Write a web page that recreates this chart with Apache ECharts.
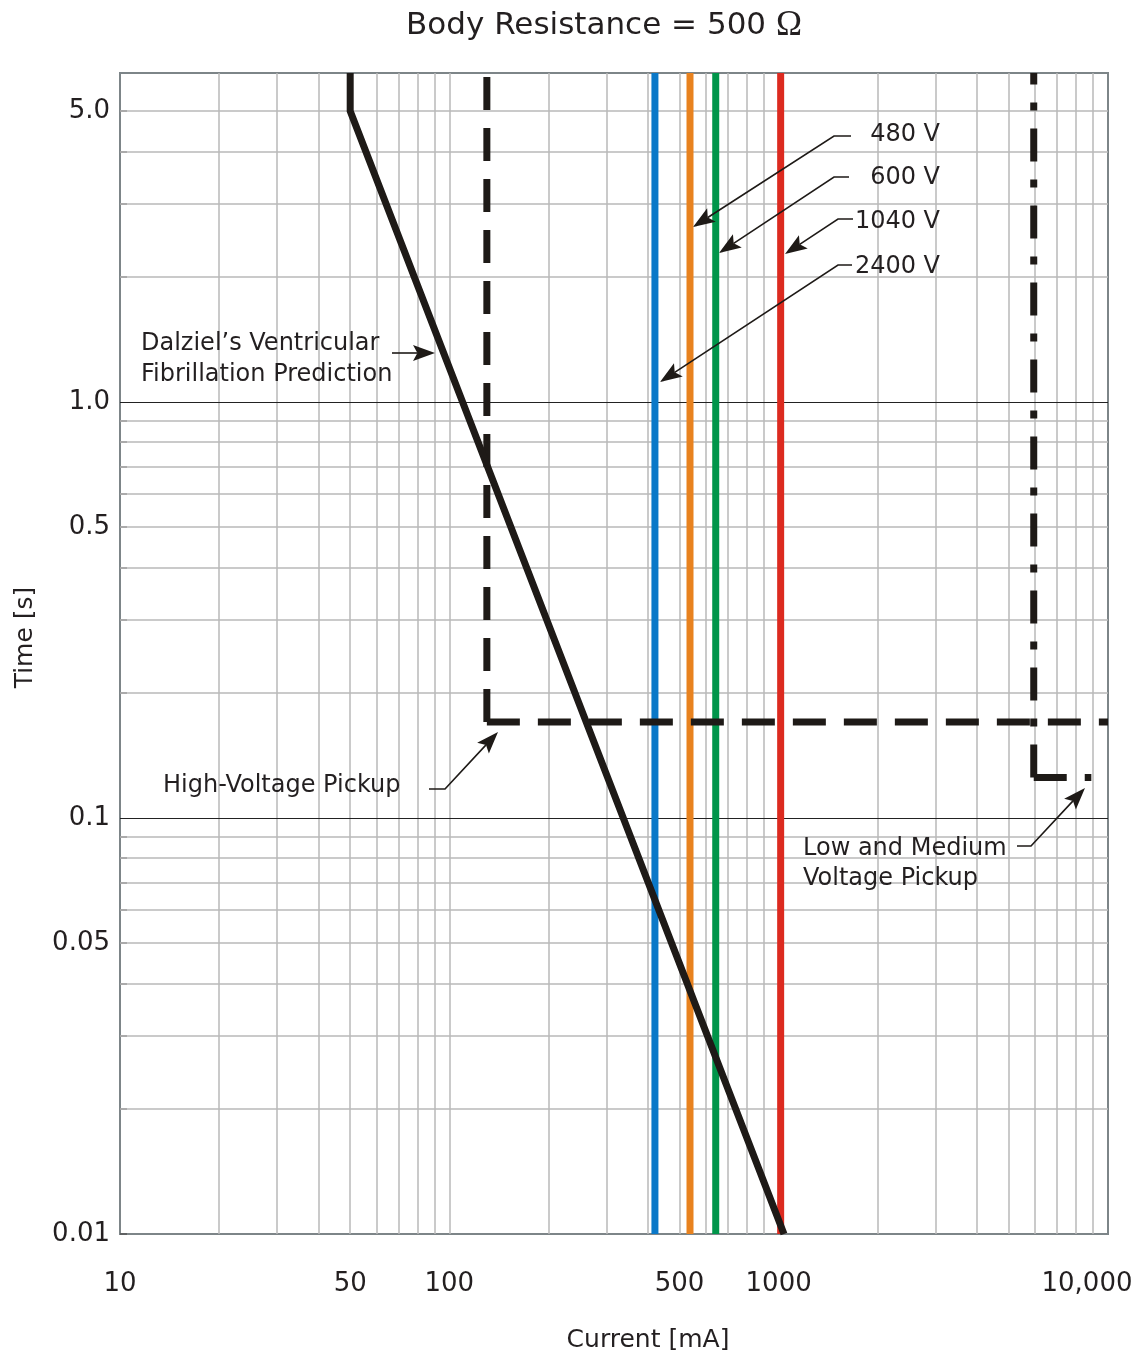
<!DOCTYPE html>
<html><head><meta charset="utf-8">
<script src="https://cdn.jsdelivr.net/npm/echarts@6/dist/echarts.min.js"></script>
<style>html,body{margin:0;padding:0;background:#fff}#c{width:1148px;height:1361px}</style>
</head><body><div id="c"></div>
<script>
// ---- data ----
const xTickValues = [10, 50, 100, 500, 1000, 10000];
const xTickLabels = ['10', '50', '100', '500', '1000', '10,000'];
const yTickValues = [0.01, 0.05, 0.1, 0.5, 1, 5];
const yTickLabels = ['0.01', '0.05', '0.1', '0.5', '1.0', '5.0'];
const xGridValues = [20,30,40,50,60,70,80,90,100,200,300,400,500,600,700,800,900,1000,2000,3000,4000,5000,6000,7000,8000,9000];
const yGridMinor = [0.02,0.03,0.04,0.05,0.06,0.07,0.08,0.09,0.2,0.3,0.4,0.5,0.6,0.7,0.8,0.9,2,3,4,5];
const yGridMajor = [0.1, 1];
const yMin = 0.01, yMax = 6.17, xMin = 10, xMax = 10000;
const voltageNames = ['2400 V', '480 V', '600 V', '1040 V'];
const voltageCurrents = [421, 538, 644, 1014];
const voltageColors = ['#0a78c8', '#e8821f', '#00954a', '#dc2a1f'];
const dalzielX = [50, 50, 1038];
const dalzielY = [6.17, 5.0, 0.01];
const hvPickupCurrent = 130, hvPickupTime = 0.17;
const lmvPickupCurrent = 5950, lmvPickupTime = 0.125, lmvPickupEnd = 8900;

const FONT = 'DejaVu Sans';
const TXT = '#231f20';
const INK = '#1e1a17';

function pairs(xs, ys) { return xs.map((x, i) => [x, ys[i]]); }
function lookup(vals, labels, v) {
  for (let i = 0; i < vals.length; i++) if (Math.abs(Math.log10(v / vals[i])) < 1e-6) return labels[i];
  return '';
}

const gridLines = [];
xGridValues.forEach(v => gridLines.push({ xAxis: v, lineStyle: { color: '#b9b9b9', width: 1.5, type: 'solid' } }));
yGridMinor.forEach(v => gridLines.push({ yAxis: v, lineStyle: { color: '#b9b9b9', width: 1.5, type: 'solid' } }));
yGridMajor.forEach(v => gridLines.push({ yAxis: v, lineStyle: { color: '#222', width: 1.2, type: 'solid' } }));

const series = [];
series.push({
  type: 'line', data: [[xMin, yMin]], symbol: 'none', lineStyle: { width: 0 }, z: 1, silent: true,
  markLine: { z: 1, silent: true, symbol: ['none', 'none'], label: { show: false }, animation: false, data: gridLines }
});
voltageCurrents.forEach((c, i) => series.push({
  type: 'line', name: voltageNames[i], data: [[c, yMin], [c, yMax]], symbol: 'none', z: 3,
  lineStyle: { color: voltageColors[i], width: 7, cap: 'butt' }
}));
series.push({
  type: 'line', data: pairs(dalzielX, dalzielY), symbol: 'none', z: 5,
  lineStyle: { color: INK, width: 7, join: 'miter' }
});
// High-voltage pickup (dashed), drawn from the corner outward
series.push({ type: 'line', data: [[hvPickupCurrent, hvPickupTime], [hvPickupCurrent, yMax]], symbol: 'none', z: 4,
  lineStyle: { color: INK, width: 7, type: [33, 18], cap: 'butt' } });
series.push({ type: 'line', data: [[hvPickupCurrent, hvPickupTime], [xMax, hvPickupTime]], symbol: 'none', z: 4,
  lineStyle: { color: INK, width: 7, type: [33, 18], cap: 'butt' } });
// Low/medium voltage pickup (dash-dot)
series.push({ type: 'line', data: [[lmvPickupCurrent, lmvPickupTime], [lmvPickupCurrent, yMax]], symbol: 'none', z: 4,
  lineStyle: { color: INK, width: 7, type: [33, 18, 8, 18], cap: 'butt' } });
series.push({ type: 'line', data: [[lmvPickupCurrent, lmvPickupTime], [lmvPickupEnd, lmvPickupTime]], symbol: 'none', z: 4,
  lineStyle: { color: INK, width: 7, type: [33, 18, 8, 18], cap: 'butt' } });

// ---- annotations (layout, pixels) ----
function arrow(pts, L, W) {
  L = L || 22; W = W || 8;
  const n = pts.length, tip = pts[n - 1], prev = pts[n - 2];
  const dx = tip[0] - prev[0], dy = tip[1] - prev[1], len = Math.hypot(dx, dy);
  const ux = dx / len, uy = dy / len, px = -uy, py = ux;
  const bx = tip[0] - ux * L, by = tip[1] - uy * L;
  const nx = tip[0] - ux * L * 0.8, ny = tip[1] - uy * L * 0.8;
  const linePts = pts.slice(0, n - 1).concat([[nx, ny]]);
  return [
    { type: 'polyline', shape: { points: linePts }, style: { stroke: INK, lineWidth: 1.6, fill: null }, z: 20 },
    { type: 'polygon', shape: { points: [tip, [bx + px * W, by + py * W], [nx, ny], [bx - px * W, by - py * W]] }, style: { fill: INK }, z: 20 }
  ];
}
function txt(t, x, y, align, size) {
  return { type: 'text', x: x, y: y, z: 20, style: { text: t, fill: TXT, font: (size || 24) + 'px "' + FONT + '"', align: align || 'left', verticalAlign: 'middle' } };
}
const graphics = [];
graphics.push({ type: 'text', x: 604, y: 26, z: 20, style: {
  text: '{a|Body Resistance = 500 }{o|Ω}', align: 'center', verticalAlign: 'middle',
  rich: { a: { fontFamily: FONT, fontSize: 31, fill: TXT, color: TXT }, o: { fontFamily: 'Liberation Serif', fontSize: 35, fill: TXT, color: TXT } } } });
graphics.push(txt('480 V', 940, 135, 'right'));
graphics.push(txt('600 V', 940, 178, 'right'));
graphics.push(txt('1040 V', 940, 222, 'right'));
graphics.push(txt('2400 V', 940, 267, 'right'));
graphics.push(...arrow([[851, 136], [834, 136], [693, 227]]));
graphics.push(...arrow([[849, 177], [834, 177], [719, 253]]));
graphics.push(...arrow([[853, 219], [838, 219], [785, 254]]));
graphics.push(...arrow([[852, 265], [838, 265], [660, 382]]));
graphics.push(txt('Dalziel’s Ventricular', 141, 344));
graphics.push(txt('Fibrillation Prediction', 141, 375));
graphics.push(...arrow([[392, 353], [435, 353]]));
graphics.push(txt('High-Voltage Pickup', 163, 786));
graphics.push(...arrow([[429, 789], [445, 789], [498, 732]]));
graphics.push(txt('Low and Medium', 803, 849));
graphics.push(txt('Voltage Pickup', 803, 879));
graphics.push(...arrow([[1017, 846], [1031, 846], [1085, 788]]));

const chart = echarts.init(document.getElementById('c'), null, { renderer: 'canvas' });
chart.setOption({
  animation: false,
  backgroundColor: '#fff',
  grid: { left: 120, right: 40, top: 73, bottom: 127, show: true, borderColor: '#7d8588', borderWidth: 2, backgroundColor: 'transparent' },
  xAxis: {
    type: 'log', min: xMin, max: xMax, logBase: 10,
    name: 'Current [mA]', nameLocation: 'middle', nameGap: 94,
    nameTextStyle: { fontFamily: FONT, fontSize: 25, color: TXT, padding: [0, 0, 0, 68] },
    axisLine: { show: true, lineStyle: { color: '#7d8588', width: 2 } },
    axisTick: { show: false },
    splitLine: { show: false }, minorSplitLine: { show: false },
    axisLabel: {
      customValues: xTickValues, margin: 37, fontFamily: FONT, fontSize: 26, color: TXT,
      formatter: v => { const s = lookup(xTickValues, xTickLabels, v); return v >= 9999 ? '{r|' + s + '}' : s; },
      rich: { r: { fontFamily: FONT, fontSize: 26, color: TXT, padding: [0, 42, 0, 0] } }
    }
  },
  yAxis: {
    type: 'log', min: yMin, max: yMax, logBase: 10,
    name: 'Time [s]', nameLocation: 'middle', nameGap: 82, nameRotate: 90,
    nameTextStyle: { fontFamily: FONT, fontSize: 25, color: TXT, padding: [0, 0, 0, 32] },
    axisLine: { show: true, lineStyle: { color: '#7d8588', width: 2 } },
    axisTick: { show: true, inside: true, length: 7, customValues: yGridMinor.concat([0.01]), lineStyle: { color: '#555', width: 1.5 } },
    splitLine: { show: false }, minorSplitLine: { show: false },
    axisLabel: {
      customValues: yTickValues, margin: 10, fontFamily: FONT, fontSize: 26, color: TXT,
      formatter: v => lookup(yTickValues, yTickLabels, v)
    }
  },
  graphic: graphics,
  series: series
});
</script></body></html>
